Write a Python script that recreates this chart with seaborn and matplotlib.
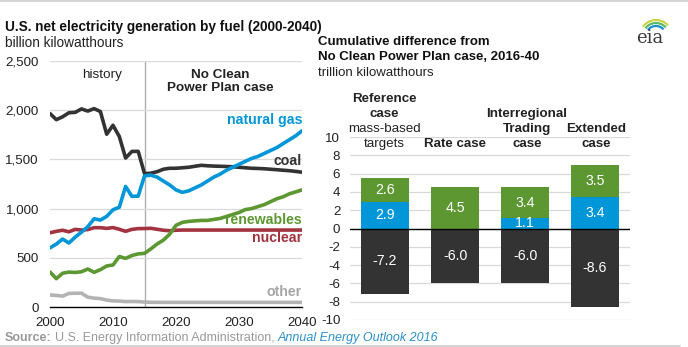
import numpy as np
import pandas as pd
import matplotlib
matplotlib.use("Agg")
import matplotlib.pyplot as plt
from matplotlib.patches import Arc
import seaborn as sns

# ---- generation by fuel, billion kWh (history 2000-2015, projection 2016-2040)
years = list(range(2000, 2041))
coal = [1966, 1904, 1933, 1974, 1978, 2013, 1991, 2016, 1986, 1756, 1847, 1733, 1514, 1581, 1582, 1356,
        1360, 1375, 1400, 1410, 1410, 1415, 1420, 1430, 1440, 1435, 1432, 1430, 1428, 1425, 1420,
        1415, 1410, 1408, 1405, 1400, 1395, 1390, 1385, 1378, 1370]
natural_gas = [601, 639, 691, 650, 710, 761, 816, 897, 883, 921, 988, 1014, 1225, 1124, 1127, 1333,
               1340, 1320, 1280, 1240, 1190, 1165, 1180, 1210, 1240, 1280, 1320, 1350, 1390, 1420, 1450,
               1480, 1510, 1530, 1560, 1590, 1620, 1660, 1700, 1740, 1790]
renewables = [356, 288, 343, 355, 351, 358, 386, 352, 380, 417, 427, 513, 494, 523, 540, 545,
              590, 640, 680, 740, 830, 860, 870, 875, 880, 880, 890, 900, 920, 940, 960,
              990, 1000, 1020, 1040, 1070, 1100, 1120, 1150, 1170, 1190]
nuclear = [754, 769, 780, 764, 789, 782, 787, 806, 806, 799, 807, 790, 769, 789, 797, 797,
           800, 790, 780, 775, 780, 782, 782, 782, 782, 782, 782, 782, 782, 782, 782,
           782, 782, 782, 782, 782, 782, 782, 782, 782, 782]
other = [122, 118, 110, 138, 140, 140, 100, 90, 85, 70, 62, 60, 55, 56, 55, 50,
         48, 47, 47, 47, 47, 47, 47, 47, 47, 47, 47, 47, 47, 47, 47,
         47, 47, 47, 47, 47, 47, 47, 47, 47, 47]

# ---- cumulative difference vs. No CPP case, trillion kWh
cases = ["Reference", "Rate", "Interregional", "Extended"]
coal_diff = [-7.2, -6.0, -6.0, -8.6]
gas_diff = [2.9, 0.0, 1.1, 3.4]
renew_diff = [2.6, 4.5, 3.4, 3.5]

C_COAL = "#333333"
C_GAS = "#0096d7"
C_REN = "#5d9732"
C_NUC = "#a33340"
C_OTH = "#b3b3b3"
GRID = "#d9d9d9"

sns.set_theme(style="white")
plt.rcParams["font.family"] = ["Liberation Sans", "DejaVu Sans"]
plt.rcParams["axes.unicode_minus"] = False

W, H = 688, 347
fig = plt.figure(figsize=(W / 100, H / 100), dpi=100)


def fx(px):
    return px / W


def fy(py):
    return 1 - py / H


TICK_FS = 9.6

# ================= left panel =================
axL = fig.add_axes([fx(50), fy(307), fx(302) - fx(50), fy(61) - fy(307)])
df = pd.DataFrame({"year": years, "coal": coal, "natural gas": natural_gas,
                   "renewables": renewables, "nuclear": nuclear, "other": other})
long = df.melt(id_vars="year", var_name="fuel", value_name="gen")
palette = {"coal": C_COAL, "natural gas": C_GAS, "renewables": C_REN,
           "nuclear": C_NUC, "other": C_OTH}
sns.lineplot(data=long, x="year", y="gen", hue="fuel", palette=palette,
             linewidth=2.6, legend=False, ax=axL,
             hue_order=["other", "nuclear", "renewables", "coal", "natural gas"])
axL.set_xlim(2000, 2040)
axL.set_ylim(0, 2500)
axL.set_yticks(range(0, 2501, 500))
axL.set_yticklabels([f"{v:,}" for v in range(0, 2501, 500)])
axL.set_xticks(range(2000, 2041, 5))
axL.set_xticklabels([str(y) if y % 10 == 0 else "" for y in range(2000, 2041, 5)])
axL.grid(axis="y", color=GRID, linewidth=0.9)
axL.set_axisbelow(True)
for s in ["top", "right", "left"]:
    axL.spines[s].set_visible(False)
axL.spines["bottom"].set_color("#000000")
axL.spines["bottom"].set_linewidth(1.0)
axL.tick_params(axis="x", direction="out", length=5, width=0.8, color="#000000",
                labelsize=TICK_FS, pad=2, labelcolor="#222222")
axL.tick_params(axis="y", length=0, labelsize=TICK_FS, pad=8, labelcolor="#222222")
axL.set_xlabel("")
axL.set_ylabel("")
axL.axvline(2015, color="#b0b0b0", linewidth=1.0, zorder=0)

axL.text(2008.3, 2355, "history", ha="center", va="center", fontsize=9.7, color="#222222")
axL.text(2027, 2290, "No Clean\nPower Plan case", ha="center", va="center", fontsize=9.7,
         fontweight="bold", color="#222222", linespacing=1.15)
lab_kw = dict(ha="right", va="center", fontsize=10.2, fontweight="bold")
axL.text(2040, 1905, "natural gas", color=C_GAS, **lab_kw)
axL.text(2040, 1480, "coal", color=C_COAL, **lab_kw)
axL.text(2040, 880, "renewables", color=C_REN, **lab_kw)
axL.text(2040, 705, "nuclear", color=C_NUC, **lab_kw)
axL.text(2040, 155, "other", color="#a6a6a6", **lab_kw)

# ================= right panel =================
axR = fig.add_axes([fx(350), fy(320), fx(630) - fx(350), fy(137) - fy(320)])
bdf = pd.DataFrame({"case": cases, "coal": coal_diff, "gas": gas_diff, "ren": renew_diff})
bw = 0.68
sns.barplot(data=bdf, x="case", y="coal", color=C_COAL, width=bw, ax=axR,
            saturation=1, linewidth=0, errorbar=None)
sns.barplot(data=bdf, x="case", y="gas", color=C_GAS, width=bw, ax=axR,
            saturation=1, linewidth=0, errorbar=None)
sns.barplot(data=bdf, x="case", y="ren", color=C_REN, width=bw, ax=axR,
            saturation=1, linewidth=0, errorbar=None, bottom=bdf["gas"].values)
axR.set_xlim(-0.5, 3.5)
axR.set_ylim(-10, 10)
axR.set_yticks(range(-10, 11, 2))
axR.set_xticks([])
axR.set_xlabel("")
axR.set_ylabel("")
axR.grid(axis="y", color=GRID, linewidth=0.9)
axR.set_axisbelow(True)
for s in axR.spines.values():
    s.set_visible(False)
axR.axhline(0, color="#000000", linewidth=1.0, zorder=3)
axR.tick_params(axis="y", length=0, labelsize=TICK_FS, pad=7, labelcolor="#222222")

for i in range(len(cases)):
    axR.text(i, coal_diff[i] / 2, f"{coal_diff[i]:.1f}", ha="center", va="center",
             color="white", fontsize=10.2)
    if gas_diff[i] > 0:
        axR.text(i, gas_diff[i] / 2, f"{gas_diff[i]:.1f}", ha="center", va="center",
                 color="white", fontsize=10.2)
    axR.text(i, gas_diff[i] + renew_diff[i] / 2, f"{renew_diff[i]:.1f}", ha="center",
             va="center", color="white", fontsize=10.2)

# case headers
hk = dict(ha="center", va="center", fontsize=9.6, color="#222222",
          transform=fig.transFigure)
fig.text(fx(384), fy(99), "Reference", fontweight="bold", **hk)
fig.text(fx(384), fy(114), "case", fontweight="bold", **hk)
fig.text(fx(384), fy(129), "mass-based", **hk)
fig.text(fx(384), fy(144), "targets", **hk)
fig.text(fx(455), fy(144), "Rate case", fontweight="bold", **hk)
fig.text(fx(527), fy(114), "Interregional", fontweight="bold", **hk)
fig.text(fx(527), fy(129), "Trading", fontweight="bold", **hk)
fig.text(fx(527), fy(144), "case", fontweight="bold", **hk)
fig.text(fx(596), fy(129), "Extended", fontweight="bold", **hk)
fig.text(fx(596), fy(144), "case", fontweight="bold", **hk)

# ================= titles =================
fig.text(fx(5), fy(27), "U.S. net electricity generation by fuel (2000-2040)",
         fontsize=9.8, fontweight="bold", color="#111111", va="center")
fig.text(fx(5), fy(43), "billion kilowatthours", fontsize=9.8, color="#222222", va="center")
fig.text(fx(318), fy(42), "Cumulative difference from", fontsize=9.5,
         fontweight="bold", color="#111111", va="center")
fig.text(fx(318), fy(57), "No Clean Power Plan case, 2016-40", fontsize=9.5,
         fontweight="bold", color="#111111", va="center")
fig.text(fx(318), fy(73), "trillion kilowatthours", fontsize=9.5, color="#222222", va="center")

# eia mark
fig.text(fx(650), fy(38), "eia", fontsize=13, family="DejaVu Serif", color="#3a3a3a",
         ha="center", va="center")
for r, c in [(16, "#c9d648"), (13, "#5db86a"), (10, "#1a8fcf")]:
    fig.add_artist(Arc((fx(656), fy(36)), fx(r * 2), (r * 2) / H, theta1=60, theta2=125,
                       color=c, linewidth=1.6, transform=fig.transFigure))

# frame lines and source
fig.add_artist(plt.Line2D([0, 1], [fy(1), fy(1)], color="#cccccc", linewidth=1.2,
                          transform=fig.transFigure))
fig.add_artist(plt.Line2D([0, fx(680)], [fy(346), fy(346)], color="#cccccc", linewidth=1.2,
                          transform=fig.transFigure))
src = fig.text(fx(5), fy(338), "Source:", fontsize=9, fontweight="bold", color="#999999",
               va="center")
fig.canvas.draw()
b0 = src.get_window_extent()
t2 = fig.text((b0.x1 + 3) / W, fy(338), "U.S. Energy Information Administration, ",
              fontsize=9, color="#999999", va="center")
fig.canvas.draw()
bb = t2.get_window_extent()
fig.text(bb.x1 / W, fy(338), "Annual Energy Outlook 2016", fontsize=9, style="italic",
         color="#2b8fc9", va="center")

fig.savefig("out.png", dpi=100, facecolor="white")
